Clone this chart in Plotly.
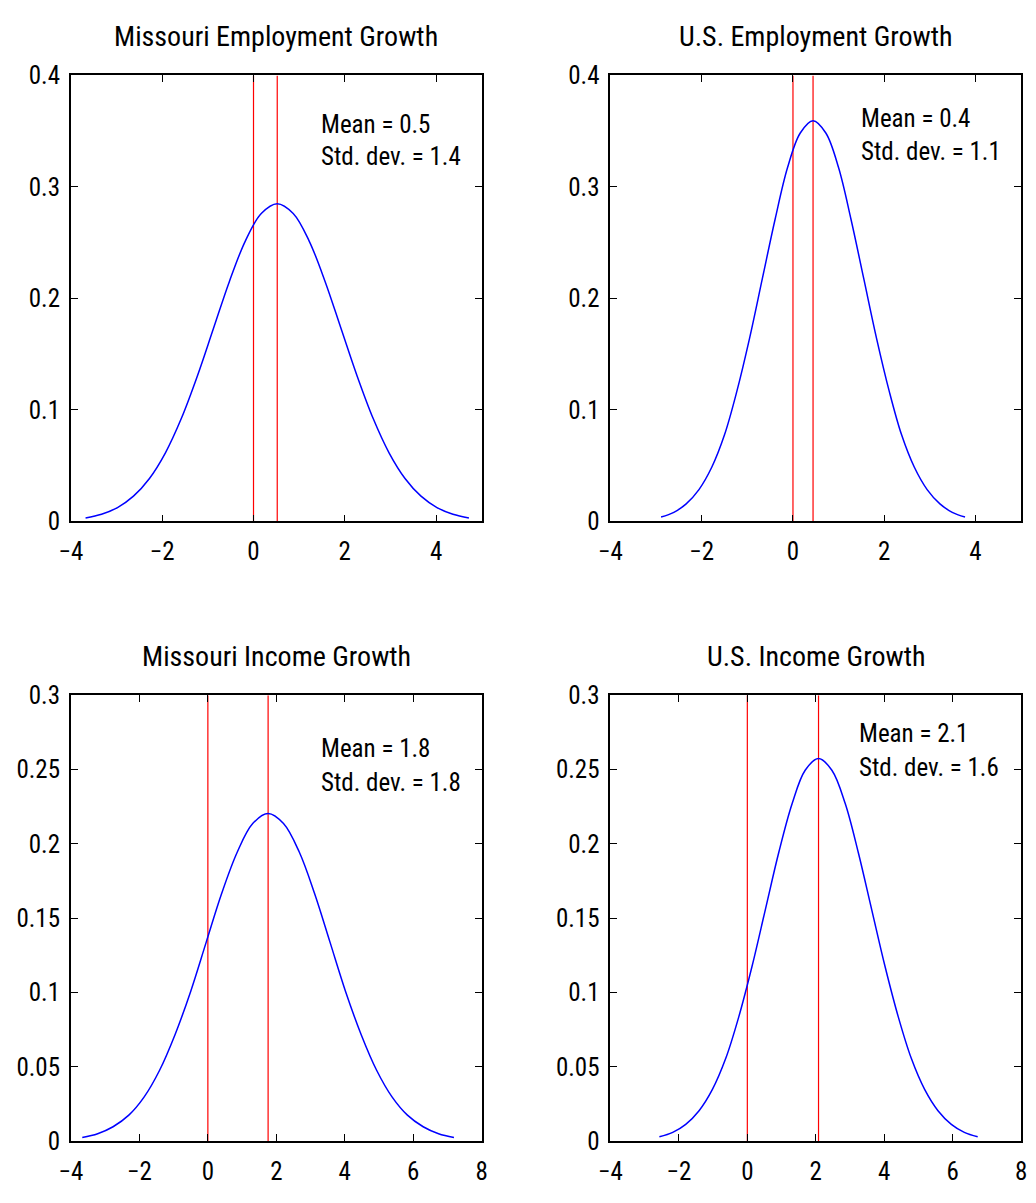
import plotly.graph_objects as go

# ---------------- data ----------------
titles = ["Missouri Employment Growth", "U.S. Employment Growth",
          "Missouri Income Growth", "U.S. Income Growth"]
mean_labels = ["Mean = 0.5", "Mean = 0.4", "Mean = 1.8", "Mean = 2.1"]
std_labels = ["Std. dev. = 1.4", "Std. dev. = 1.1", "Std. dev. = 1.8", "Std. dev. = 1.6"]

# vertical red reference lines: zero and the mean
zero_line = [0, 0, 0, 0]
mean_line = [0.52, 0.44, 1.76, 2.08]

# density curves
mo_emp_x = [-3.68, -3.33, -2.98, -2.63, -2.28, -1.93, -1.58, -1.23, -0.88, -0.53, -0.18, 0.17,
            0.52, 0.87, 1.22, 1.57, 1.92, 2.27, 2.62, 2.97, 3.32, 3.67, 4.02, 4.37, 4.72]
mo_emp_y = [0.0032, 0.0065, 0.0125, 0.0227, 0.0386, 0.0616, 0.0925, 0.1305, 0.1728, 0.2151, 0.2515, 0.2762,
            0.2850, 0.2762, 0.2515, 0.2151, 0.1728, 0.1305, 0.0925, 0.0616, 0.0386, 0.0227, 0.0125, 0.0065, 0.0032]

us_emp_x = [-2.89, -2.61, -2.34, -2.06, -1.78, -1.50, -1.23, -0.95, -0.67, -0.39, -0.12, 0.16,
            0.44, 0.72, 1.00, 1.27, 1.55, 1.83, 2.11, 2.38, 2.66, 2.94, 3.22, 3.49, 3.77]
us_emp_y = [0.0040, 0.0082, 0.0158, 0.0286, 0.0486, 0.0777, 0.1167, 0.1645, 0.2180, 0.2713, 0.3172, 0.3484,
            0.3594, 0.3484, 0.3172, 0.2713, 0.2180, 0.1645, 0.1167, 0.0777, 0.0486, 0.0286, 0.0158, 0.0082, 0.0040]

mo_inc_x = [-3.67, -3.22, -2.77, -2.31, -1.86, -1.41, -0.96, -0.50, -0.05, 0.40, 0.86, 1.31,
            1.76, 2.21, 2.67, 3.12, 3.57, 4.02, 4.48, 4.93, 5.38, 5.83, 6.29, 6.74, 7.19]
mo_inc_y = [0.0024, 0.0050, 0.0097, 0.0175, 0.0298, 0.0477, 0.0716, 0.1009, 0.1337, 0.1664, 0.1945, 0.2136,
            0.2204, 0.2136, 0.1945, 0.1664, 0.1337, 0.1009, 0.0716, 0.0477, 0.0298, 0.0175, 0.0097, 0.0050, 0.0024]

us_inc_x = [-2.57, -2.18, -1.80, -1.41, -1.02, -0.63, -0.25, 0.14, 0.53, 0.92, 1.31, 1.69,
            2.08, 2.47, 2.86, 3.24, 3.63, 4.02, 4.41, 4.79, 5.18, 5.57, 5.96, 6.34, 6.73]
us_inc_y = [0.0029, 0.0059, 0.0113, 0.0205, 0.0348, 0.0557, 0.0836, 0.1178, 0.1561, 0.1943, 0.2271, 0.2495,
            0.2574, 0.2495, 0.2271, 0.1943, 0.1561, 0.1178, 0.0836, 0.0557, 0.0348, 0.0205, 0.0113, 0.0059, 0.0029]

curves_x = [mo_emp_x, us_emp_x, mo_inc_x, us_inc_x]
curves_y = [mo_emp_y, us_emp_y, mo_inc_y, us_inc_y]

x_ranges = [[-4, 5], [-4, 5], [-4, 8], [-4, 8]]
x_ticks = [[-4, -2, 0, 2, 4], [-4, -2, 0, 2, 4],
           [-4, -2, 0, 2, 4, 6, 8], [-4, -2, 0, 2, 4, 6, 8]]
y_ranges = [[0, 0.4], [0, 0.4], [0, 0.3], [0, 0.3]]
y_ticks = [[0, 0.1, 0.2, 0.3, 0.4], [0, 0.1, 0.2, 0.3, 0.4],
           [0, 0.05, 0.1, 0.15, 0.2, 0.25, 0.3], [0, 0.05, 0.1, 0.15, 0.2, 0.25, 0.3]]

# ---------------- layout ----------------
W, H = 1036, 1203
FONT = "Roboto Condensed, Liberation Sans, Arial, sans-serif"
# panel boxes in pixels: (left, right, top, bottom)
boxes = [(60, 478, 63, 520), (609, 1027, 63, 520),
         (60, 478, 698, 1155), (609, 1027, 698, 1155)]
text_x = [0.605, 0.605, 0.603, 0.600]
text_y_mean = [0.891, 0.904, 0.880, 0.915]
text_y_std = [0.818, 0.829, 0.805, 0.838]

fig = go.Figure()
annotations = []
for i in range(4):
    n = "" if i == 0 else str(i + 1)
    xa, ya = "x" + n, "y" + n
    top = y_ranges[i][1]
    fig.add_trace(go.Scatter(x=[zero_line[i], zero_line[i]], y=[0, top], mode="lines",
                             line=dict(color="#ff0000", width=1.2), xaxis=xa, yaxis=ya,
                             showlegend=False, hoverinfo="skip"))
    fig.add_trace(go.Scatter(x=[mean_line[i], mean_line[i]], y=[0, top], mode="lines",
                             line=dict(color="#ff0000", width=1.2), xaxis=xa, yaxis=ya,
                             showlegend=False, hoverinfo="skip"))
    fig.add_trace(go.Scatter(x=curves_x[i], y=curves_y[i], mode="lines",
                             line=dict(color="#0000ff", width=1.5, shape="spline", smoothing=1.0),
                             xaxis=xa, yaxis=ya, showlegend=False))
    l, r, t, b = boxes[i]
    axcommon = dict(showline=True, linecolor="black", linewidth=1.8, mirror="ticks",
                    ticks="inside", ticklen=7, tickwidth=1.2, tickcolor="black",
                    showgrid=False, zeroline=False,
                    tickfont=dict(family=FONT, size=25, color="black"))
    fig.layout["xaxis" + n] = dict(domain=[l / W, r / W], range=x_ranges[i],
                                   tickvals=x_ticks[i], anchor=ya, ticklabelstandoff=7, **axcommon)
    fig.layout["yaxis" + n] = dict(domain=[1 - b / H, 1 - t / H], range=y_ranges[i],
                                   tickvals=y_ticks[i], anchor=xa, ticklabelstandoff=4, **axcommon)
    dref_x = xa + " domain"
    dref_y = ya + " domain"
    annotations.append(dict(text=titles[i], xref=dref_x, yref=dref_y, x=0.5, y=1,
                            xanchor="center", yanchor="bottom", yshift=20, showarrow=False,
                            font=dict(family=FONT, size=28, color="black")))
    annotations.append(dict(text=mean_labels[i], xref=dref_x, yref=dref_y, x=text_x[i], y=text_y_mean[i],
                            xanchor="left", yanchor="middle", showarrow=False,
                            font=dict(family=FONT, size=25, color="black")))
    annotations.append(dict(text=std_labels[i], xref=dref_x, yref=dref_y, x=text_x[i], y=text_y_std[i],
                            xanchor="left", yanchor="middle", showarrow=False,
                            font=dict(family=FONT, size=25, color="black")))

fig.update_layout(width=W, height=H, autosize=False,
                  margin=dict(l=0, r=0, t=0, b=0),
                  paper_bgcolor="white", plot_bgcolor="white",
                  annotations=annotations, showlegend=False)

fig.write_html("out.html", config={"displayModeBar": False},
               post_script="document.body.style.margin='0';document.body.style.overflow='hidden';")
